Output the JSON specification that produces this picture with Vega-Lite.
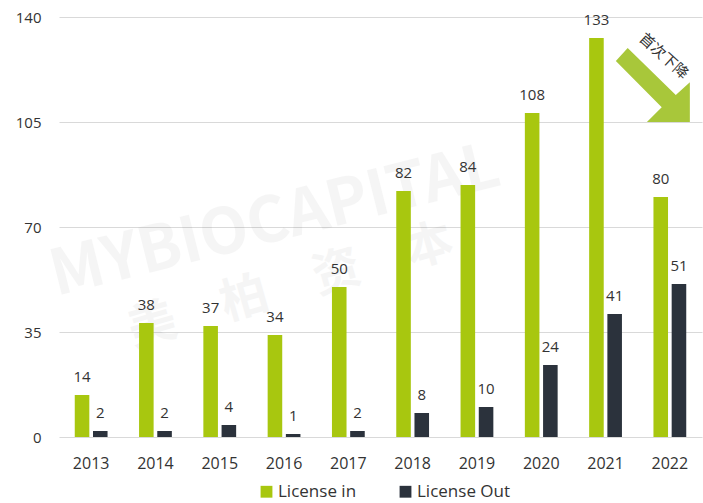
{
  "$schema": "https://vega.github.io/schema/vega-lite/v6.json",
  "width": 643,
  "height": 420,
  "autosize": {"type": "none"},
  "padding": {"left": 59, "top": 17, "right": 1, "bottom": 66},
  "background": "#ffffff",
  "config": {"view": {"stroke": null}, "font": "Open Sans"},
  "datasets": {
    "deals": [
      {"year": "2013", "series": "License in", "value": 14},
      {"year": "2013", "series": "License Out", "value": 2},
      {"year": "2014", "series": "License in", "value": 38},
      {"year": "2014", "series": "License Out", "value": 2},
      {"year": "2015", "series": "License in", "value": 37},
      {"year": "2015", "series": "License Out", "value": 4},
      {"year": "2016", "series": "License in", "value": 34},
      {"year": "2016", "series": "License Out", "value": 1},
      {"year": "2017", "series": "License in", "value": 50},
      {"year": "2017", "series": "License Out", "value": 2},
      {"year": "2018", "series": "License in", "value": 82},
      {"year": "2018", "series": "License Out", "value": 8},
      {"year": "2019", "series": "License in", "value": 84},
      {"year": "2019", "series": "License Out", "value": 10},
      {"year": "2020", "series": "License in", "value": 108},
      {"year": "2020", "series": "License Out", "value": 24},
      {"year": "2021", "series": "License in", "value": 133},
      {"year": "2021", "series": "License Out", "value": 41},
      {"year": "2022", "series": "License in", "value": 80},
      {"year": "2022", "series": "License Out", "value": 51}
    ],
    "arrow": [{"year": "2022", "value": 117.3, "label": "首次下降", "labelValue": 127}],
    "wm1": [{"year": "2016", "value": 71.7, "text": "MYBIOCAPITAL"}],
    "wm2": [{"year": "2016", "value": 50, "text": "美　柏　资　本"}]
  },
  "encoding": {
    "x": {
      "field": "year", "type": "nominal",
      "scale": {"paddingInner": 0.49, "paddingOuter": 0.245},
      "axis": {"title": null, "labelAngle": 0, "domain": false, "ticks": false, "labelFontSize": 16, "labelColor": "#333333", "labelPadding": 18}
    }
  },
  "layer": [
    {
      "data": {"name": "wm1"},
      "mark": {"type": "text", "angle": -14, "fontWeight": "bold", "fontSize": 63, "color": "#000000", "opacity": 0.035, "xOffset": -9, "font": "Noto Sans CJK SC"},
      "encoding": {
        "y": {"field": "value", "type": "quantitative"},
        "text": {"field": "text"}
      }
    },
    {
      "data": {"name": "wm2"},
      "mark": {"type": "text", "angle": -16, "fontWeight": "bold", "fontSize": 48, "color": "#000000", "opacity": 0.035, "xOffset": 7, "font": "Noto Sans CJK SC"},
      "encoding": {
        "y": {"field": "value", "type": "quantitative"},
        "text": {"field": "text"}
      }
    },
    {
      "data": {"name": "deals"},
      "mark": {"type": "bar"},
      "encoding": {
        "xOffset": {"field": "series", "type": "nominal", "sort": ["License in", "License Out"], "scale": {"paddingInner": 0.2, "paddingOuter": 0}},
        "y": {
          "field": "value", "type": "quantitative",
          "scale": {"domain": [0, 140]},
          "axis": {"title": null, "values": [0, 35, 70, 105, 140], "domain": false, "ticks": false, "labelFontSize": 15, "labelColor": "#333333", "labelPadding": 18, "gridColor": "#d9d9d9", "gridWidth": 1}
        },
        "color": {
          "field": "series", "type": "nominal",
          "sort": ["License in", "License Out"],
          "scale": {"domain": ["License in", "License Out"], "range": ["#a8c70f", "#2b323c"]},
          "legend": {"title": null, "orient": "none", "legendX": 199, "legendY": 466, "direction": "horizontal", "symbolType": "square", "symbolSize": 140, "symbolStrokeWidth": 0, "labelFontSize": 17, "labelColor": "#333333", "labelOffset": 3, "columnPadding": 40}
        }
      }
    },
    {
      "data": {"name": "deals"},
      "mark": {"type": "text", "baseline": "middle", "dy": -18, "fontSize": 15, "color": "#333333"},
      "encoding": {
        "xOffset": {"field": "series", "type": "nominal", "sort": ["License in", "License Out"]},
        "y": {"field": "value", "type": "quantitative"},
        "text": {"field": "value", "type": "quantitative"}
      }
    },
    {
      "data": {"name": "arrow"},
      "mark": {"type": "point", "filled": true, "opacity": 1, "color": "#a8c73a", "size": 5476, "strokeWidth": 0, "xOffset": -17,
        "shape": "M-1,-0.65L-0.68,-1L0.62,0.27L1,-0.08L1,1L-0.16,1L0.24,0.6Z"},
      "encoding": {
        "y": {"field": "value", "type": "quantitative"}
      }
    },
    {
      "data": {"name": "arrow"},
      "mark": {"type": "text", "angle": 42, "fontSize": 15, "color": "#333333", "font": "Noto Sans CJK SC", "xOffset": -6, "baseline": "middle"},
      "encoding": {
        "y": {"field": "labelValue", "type": "quantitative"},
        "text": {"field": "label"}
      }
    }
  ]
}
